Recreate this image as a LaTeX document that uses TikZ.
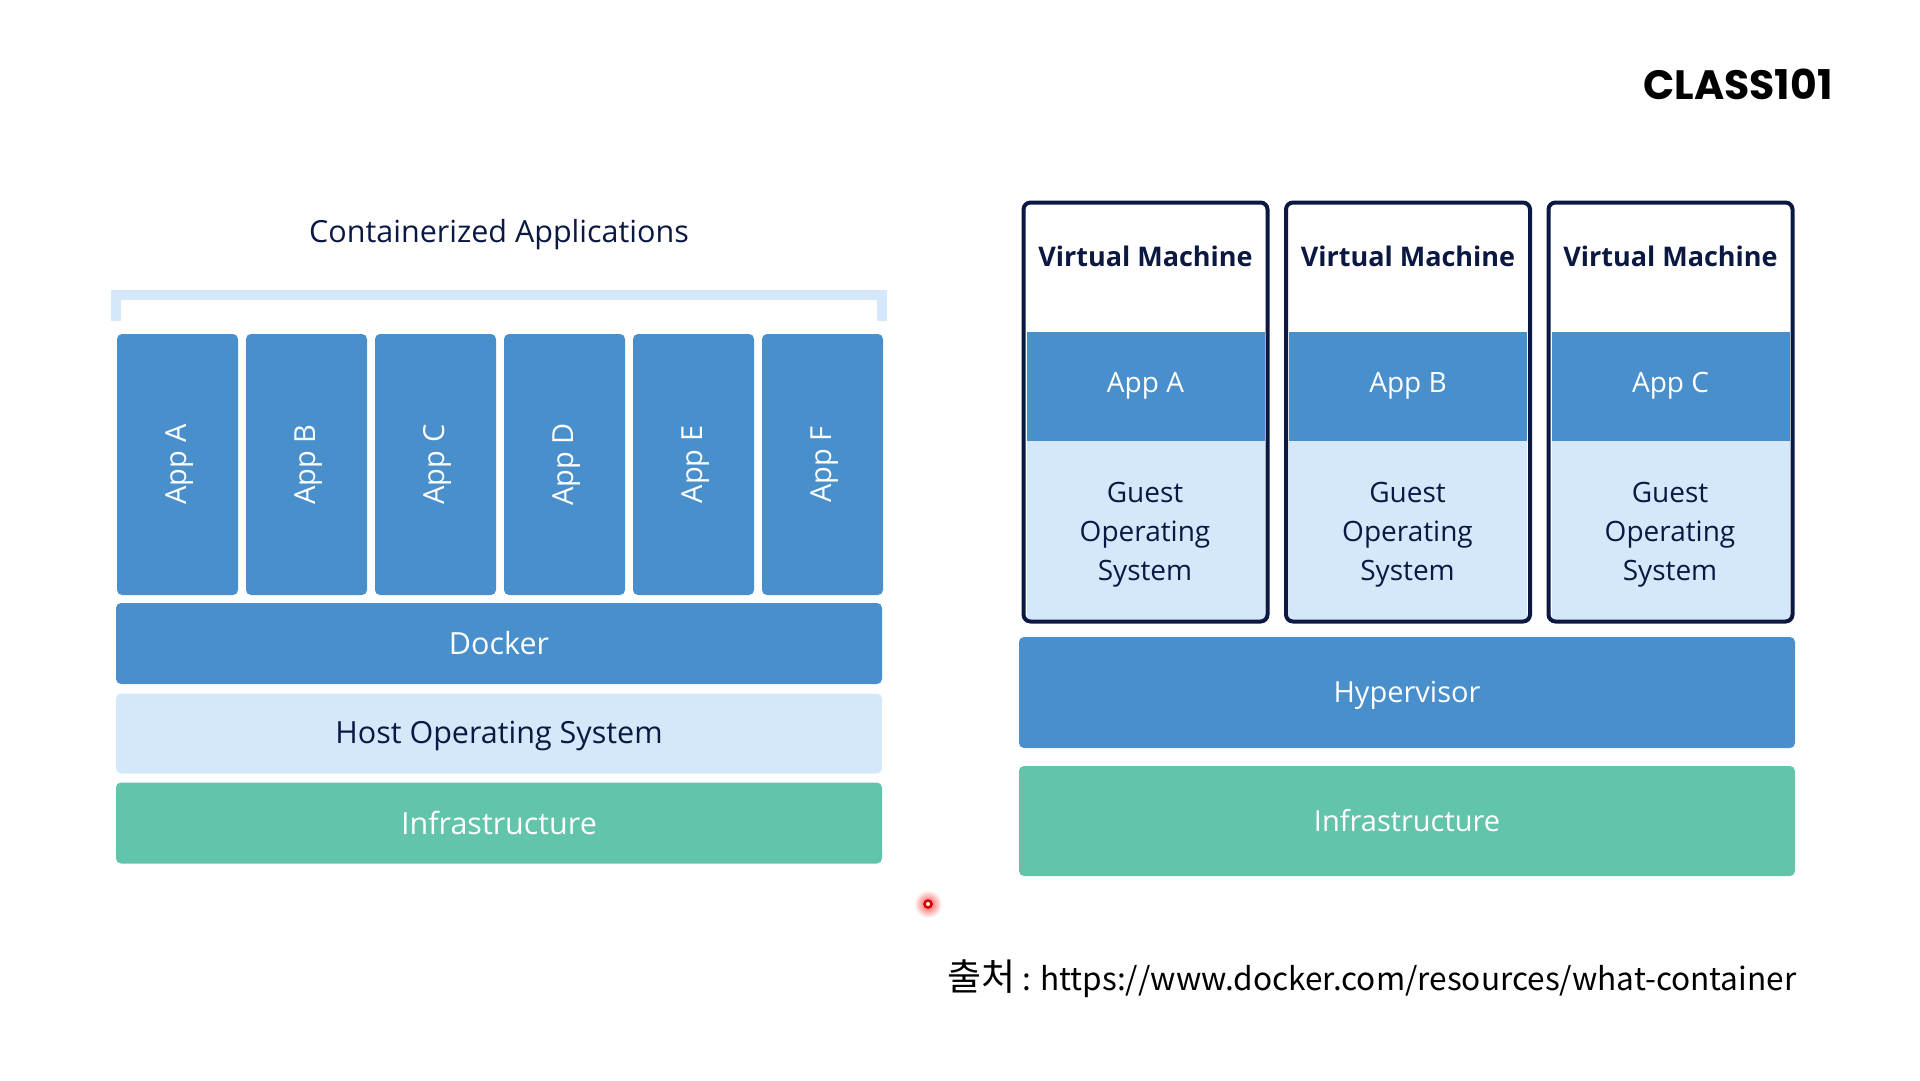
\documentclass[tikz,border=0pt]{standalone}
\usepackage{fontspec}
\setmainfont{Open Sans}
\newfontfamily\logofont{Poppins}
\newfontfamily\krfont{Noto Sans CJK KR}
\usepackage{xcolor}
\definecolor{DKblue}{RGB}{72,143,204}
\definecolor{DKlight}{RGB}{213,232,249}
\definecolor{DKgreen}{RGB}{98,196,170}
\definecolor{DKnavy}{RGB}{10,24,66}
\tikzset{
  band/.style={fill=DKblue,text=white,rounded corners=5pt,inner sep=0pt,font=\fontsize{30.5}{36}\selectfont},
  hostband/.style={band,fill=DKlight,text=DKnavy},
  infraband/.style={band,fill=DKgreen},
  bigband/.style={band,font=\fontsize{29}{36}\selectfont},
  vmapp/.style={band,rounded corners=0pt,minimum width=238pt,minimum height=109pt,font=\fontsize{28}{36}\selectfont},
  vmguest/.style={vmapp,fill=DKlight,text=DKnavy,minimum height=180pt,align=center},
  vmframe/.style={draw=DKnavy,line width=4pt,rounded corners=7pt,inner sep=0pt,minimum width=244pt,minimum height=419pt},
}
\begin{document}
\begin{tikzpicture}[x=1pt,y=-1pt]
  \useasboundingbox (0,0) rectangle (1920,1080);
  \node[text=DKnavy,font=\fontsize{30.5}{36}\selectfont] (title) at (499,235) {Containerized Applications};
  \draw[DKlight,line width=10pt] (116,321) coordinate (brl) -- (116,295) -- (882,295) -- (882,321) coordinate (brr);
  % left stack
  \foreach \i/\lab in {0/A,1/B,2/C,3/D,4/E,5/F}{
    \node[band,minimum width=121pt,minimum height=261pt] (app\lab) at (177.5+\i*129,464.5) {};
    \node[text=white,rotate=90,font=\fontsize{29}{36}\selectfont] (applab\lab) at (179.5+\i*129,464.5) {App \lab};}
  \node[band,minimum width=766pt,minimum height=81pt] (docker) at (499,643.5) {Docker};
  \node[hostband,minimum width=766pt,minimum height=80pt,text height=22pt,text depth=2.6pt] (host) at (499,733.5) {Host Operating System};
  \node[infraband,minimum width=766pt,minimum height=81pt] (infraL) at (499,823) {Infrastructure};
  % right stack
  \foreach \i/\lab in {0/A,1/B,2/C}{
    \node[vmapp] (vmapp\lab) at (1145.5+\i*262.5,386) {App \lab};
    \node[vmguest] (guest\lab) at (1145.5+\i*262.5,531) {};
    \node[align=center,text=DKnavy,font=\fontsize{28}{36}\selectfont] (guestlab\lab) at (1145+\i*262.5,535) {Guest\\[3pt]Operating\\[3pt]System};
    \node[vmframe] (vm\lab) at (1145.5+\i*262.5,412) {};
    \node[text=DKnavy,font=\fontsize{27}{36}\selectfont\bfseries] (vmlab\lab) at (1145.5+\i*262.5,256) {Virtual Machine};}
  \node[bigband,minimum width=776pt,minimum height=111pt,text height=22pt,text depth=3pt] (hyper) at (1407,692.5) {Hypervisor};
  \node[infraband,bigband,fill=DKgreen,minimum width=776pt,minimum height=110pt] (infraR) at (1407,821) {Infrastructure};
  % logo, source, pointer
  \node[font=\fontsize{41}{46}\selectfont\logofont\bfseries,text=black] (logo) at (1738,84) {CLASS101};
  \node[font=\fontsize{31.6}{36}\selectfont\krfont,text=black,anchor=east] (src) at (1800,979) {{\fontsize{37}{36}\selectfont 출처} : https://www.docker.com/resources/what-container};
  \node[circle,inner color=red!70,outer color=white,minimum size=28pt,inner sep=0pt] (haloo) at (928,904) {};
  \node[circle,draw=red!85!black,line width=2.5pt,fill=white,minimum size=7pt,inner sep=0pt] (dot) at (haloo) {};
\end{tikzpicture}
\end{document}
